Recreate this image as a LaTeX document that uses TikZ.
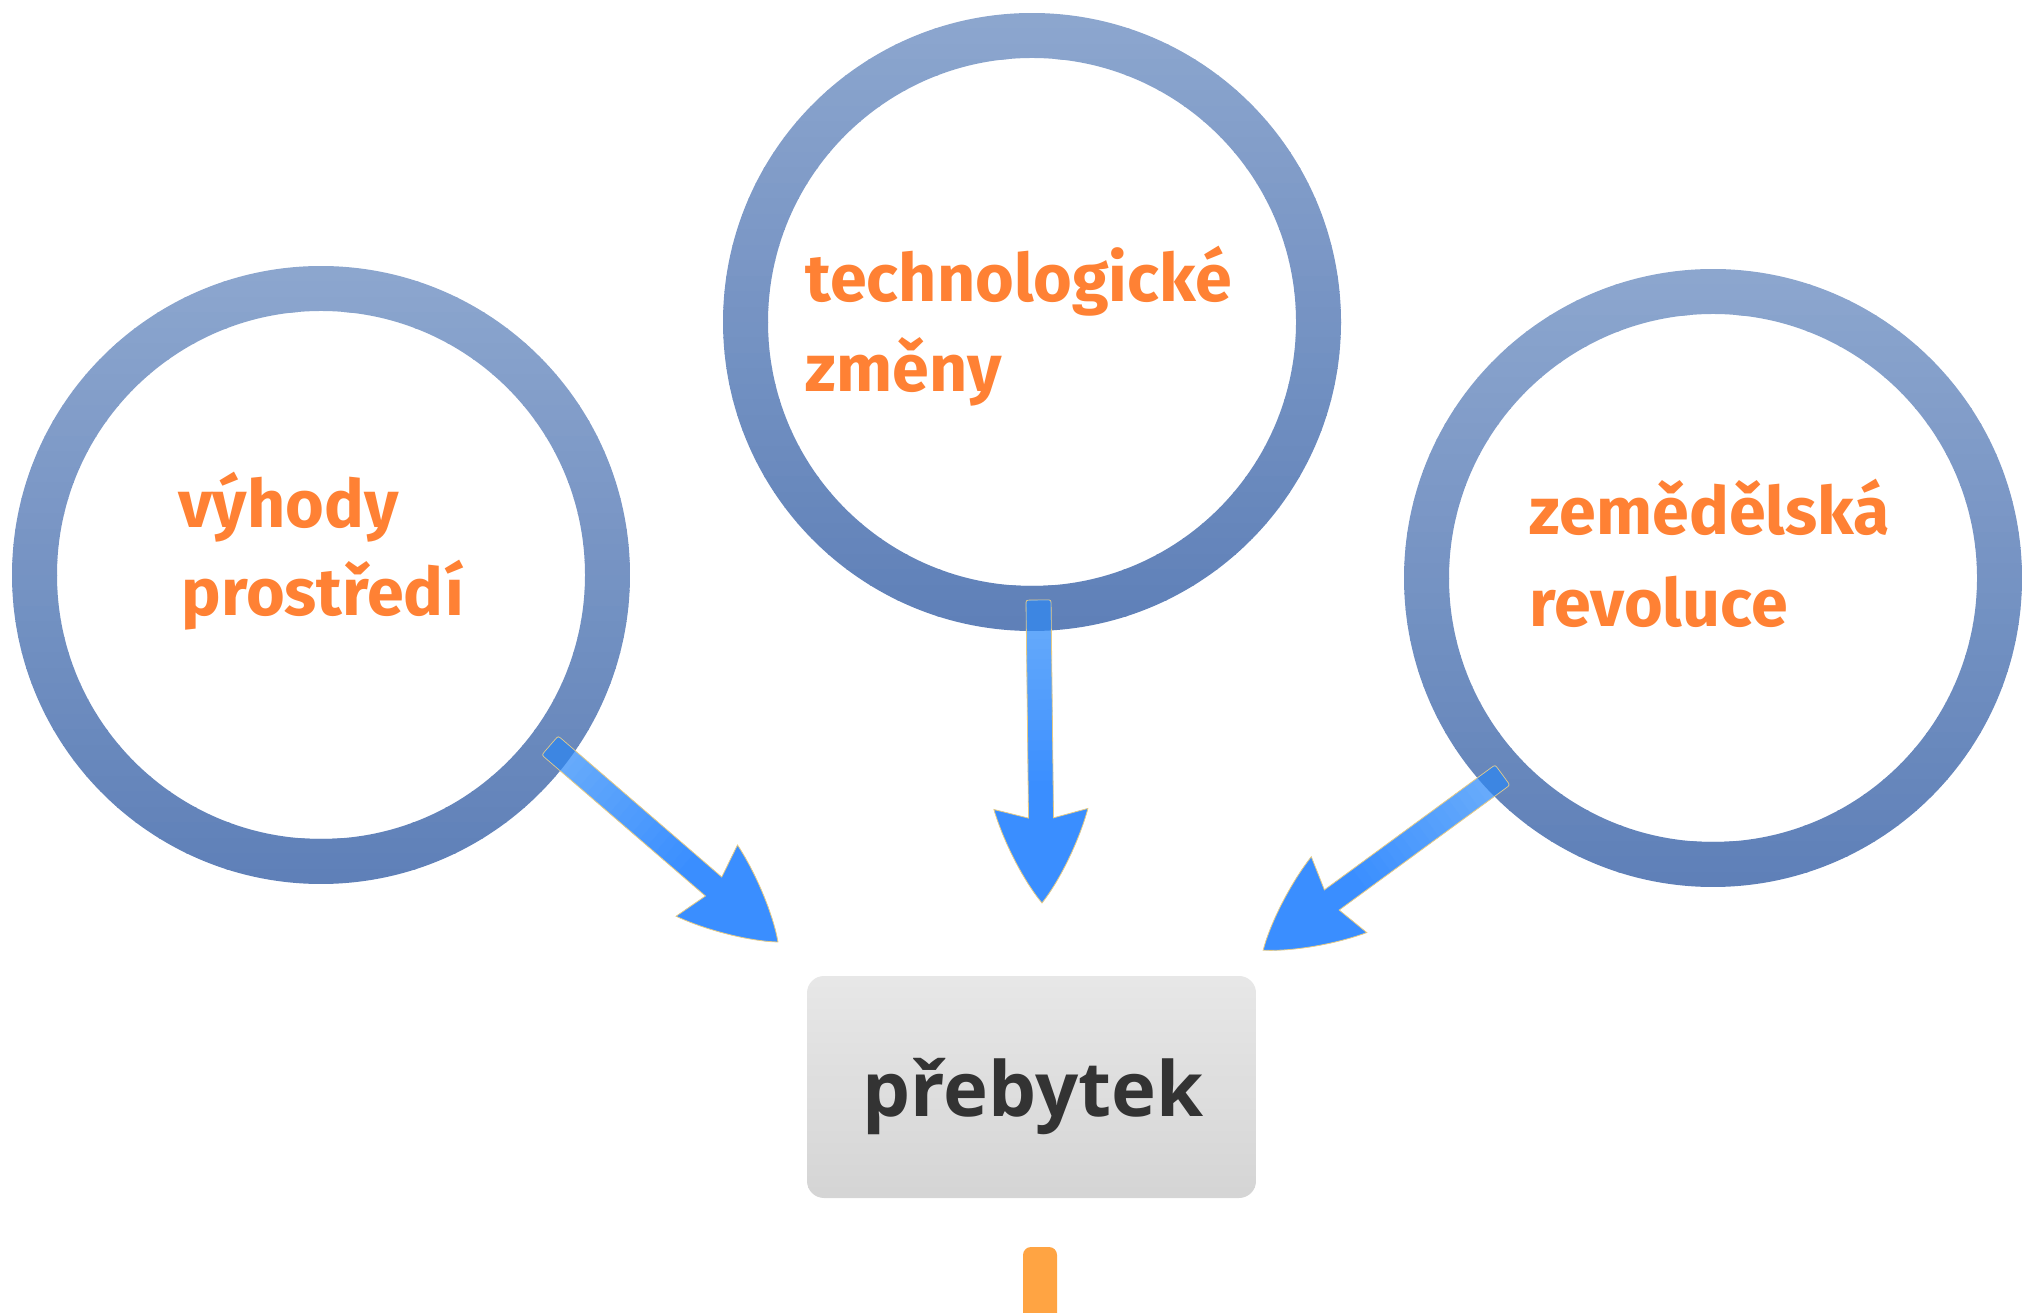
\documentclass[tikz,border=0pt]{standalone}
\usepackage{fontspec}
\newfontfamily\orfont{Fira Sans}
\newfontfamily\bxfont{Open Sans}
\definecolor{ringtop}{HTML}{8CA6CE}
\definecolor{ringbot}{HTML}{5F80B8}
\definecolor{txtor}{HTML}{FF8134}
\definecolor{arrlight}{HTML}{6CAEFA}
\definecolor{arrdark}{HTML}{3A8EFF}
\definecolor{arrover}{HTML}{3D86E2}
\definecolor{arredge}{HTML}{E5CB86}
\definecolor{boxtop}{HTML}{E7E7E7}
\definecolor{boxbot}{HTML}{D5D5D5}
\definecolor{boxtxt}{HTML}{333333}
\definecolor{barcol}{HTML}{FFA443}
% ring with a vertical gradient built from strips
\newcommand\ringshape[1]{%
 \begin{scope}[even odd rule,shift={(#1)}]
  \clip (0,0) circle[radius=309] (0,0) circle[radius=264];
  \foreach \i in {0,...,39}{
    \pgfmathsetmacro\pp{\i*100/39}
    \fill[ringbot!\pp!ringtop] (-310,-309+\i*15.45) rectangle (310,-309+\i*15.45+16.5);
  }
 \end{scope}}
\newcommand\arrowpath[1]{(#1-85,-12.5) -- (5,-12.5) .. controls (0,-12.5) .. (0,-7.5) -- (0,7.5)
   .. controls (0,12.5) .. (5,12.5) -- (#1-85,12.5) -- (#1-94,47)
   .. controls (#1-62,38) and (#1-22,18) .. (#1,0)
   .. controls (#1-22,-18) and (#1-62,-38) .. (#1-94,-47) -- cycle}
% #1 start coordinate, #2 angle, #3 length, #4 ring centre
\newcommand\blarrow[4]{%
 \begin{scope}[shift={(#1)},rotate=#2]
  \begin{scope}
   \clip \arrowpath{#3};
   \foreach \i in {0,...,29}{
     \pgfmathsetmacro\pp{min(100,\i*100/18)}
     \fill[arrdark!\pp!arrlight] (\i*#3/30-1,-50) rectangle (\i*#3/30+#3/30+1,50);
   }
  \end{scope}
  \draw[arrowedge] \arrowpath{#3};
 \end{scope}
 \begin{scope}[even odd rule]
  \clip (#4) circle[radius=309] (#4) circle[radius=264];
  \begin{scope}[shift={(#1)},rotate=#2]
   \fill[arrover] (#3-85,-12) -- (5,-12) .. controls (0.5,-12) .. (0.5,-7.5) -- (0.5,7.5)
   .. controls (0.5,12) .. (5,12) -- (#3-85,12) -- cycle;
  \end{scope}
 \end{scope}}
\tikzset{
  arrowedge/.style={draw=arredge,line width=0.2pt},
  ortext/.style={anchor=base west,inner sep=0pt,font=\orfont\bfseries\fontsize{16.6}{20}\selectfont\color{txtor}},
}
\begin{document}
\begin{tikzpicture}[x=0.25pt,y=-0.25pt]
\useasboundingbox (0,0) rectangle (2022,1313);
% ring centres
\coordinate (cl) at (321,575);
\coordinate (cm) at (1032,322);
\coordinate (cr) at (1713,578);
\ringshape{cl}
\ringshape{cm}
\ringshape{cr}
% texts
\node[ortext] (tl1) at (178,528) {výhody};
\node[ortext] (tl2) at (181,616) {prostředí};
\node[ortext] (tm1) at (805,302) {technologické};
\node[ortext] (tm2) at (805,392) {změny};
\node[ortext] (tr1) at (1529,535) {zemědělská};
\node[ortext] (tr2) at (1529,627) {revoluce};
% box
\begin{scope}
 \clip (807,976) [rounded corners=4.25pt] rectangle (1256,1198);
 \foreach \i in {0,...,19}{
   \pgfmathsetmacro\pp{\i*100/19}
   \fill[boxbot!\pp!boxtop] (806,976+\i*11.1) rectangle (1257,976+\i*11.1+12);
 }
\end{scope}
\node[anchor=base,inner sep=0pt,font=\bxfont\bfseries\fontsize{19}{23}\selectfont\color{boxtxt}] (box) at (1033,1116) {přebytek};
% orange bar
\coordinate (bar) at (1040,1247);
\fill[barcol,rounded corners=2pt] (1023,1330) -- (1023,1247) -- (1057,1247) -- (1057,1330);
% arrows
\coordinate (sl) at (550,745.5);
\coordinate (sm) at (1038.5,600);
\coordinate (sr) at (1502.5,775);
\blarrow{sl}{-40.76}{301}{cl}
\blarrow{sm}{-89.34}{303}{cm}
\blarrow{sr}{-143.8}{296.6}{cr}
\end{tikzpicture}
\end{document}
